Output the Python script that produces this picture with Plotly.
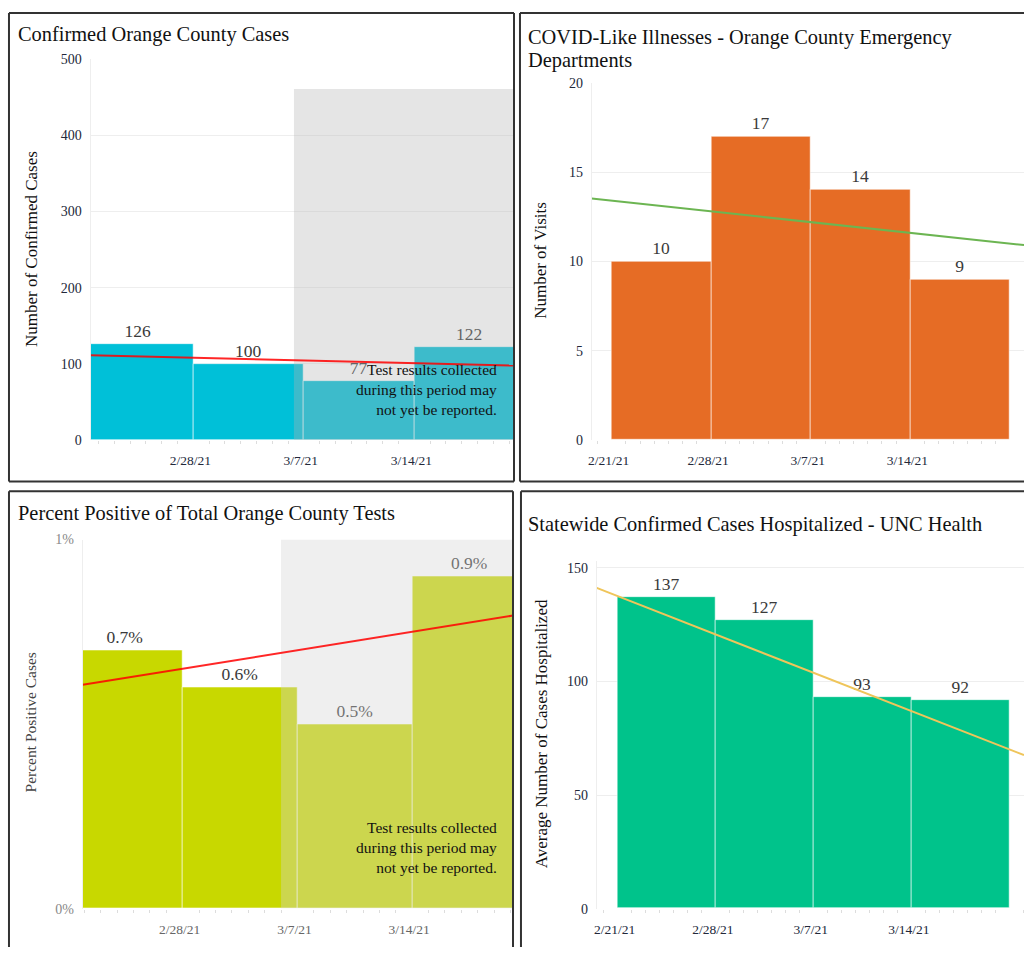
import numpy as np
import pandas as pd
import plotly.graph_objects as go

# ---------------- data ----------------
week_starts = ["2021-02-21", "2021-02-28", "2021-03-07", "2021-03-14"]
confirmed_cases = [126, 100, 77, 122]
cli_visits = [10, 17, 14, 9]
percent_positive = [0.7, 0.6, 0.5, 0.9]
hospitalized = [137, 127, 93, 92]

titles = {
    "cases": "Confirmed Orange County Cases",
    "cli_1": "COVID-Like Illnesses - Orange County Emergency",
    "cli_2": "Departments",
    "pct": "Percent Positive of Total Orange County Tests",
    "hosp": "Statewide Confirmed Cases Hospitalized - UNC Health",
}
y_titles = {
    "cases": "Number of Confirmed Cases",
    "cli": "Number of Visits",
    "pct": "Percent Positive Cases",
    "hosp": "Average Number of Cases Hospitalized",
}
note_text = "Test results collected<br>during this period may<br>not yet be reported."

# pending-reporting period (shaded)
cases_pending_start = "2021-03-06 09:00"
cases_pending_top = 461
pct_pending_start = "2021-03-06 00:00"
pct_pending_top = 1.0
pending_end = "2021-03-28"

# ---------------- layout helpers ----------------
W, H = 1024, 955
FONT = "Liberation Serif"


def xd(a, b):
    return [a / W, min(b / W, 1.0)]


def yd(top, bottom):
    return [1 - bottom / H, 1 - top / H]


def px(x):
    return x / W


def py(y):
    return 1 - y / H


xranges = {
    "cases": ["2021-02-21 12:00", "2021-03-20 06:00"],
    "cli": ["2021-02-19 14:24", "2021-03-21 23:30"],
    "pct": ["2021-02-21 21:36", "2021-03-20 03:36"],
    "hosp": ["2021-02-19 12:00", "2021-03-22 00:00"],
}


def trend(vals, xr):
    base = pd.to_datetime(week_starts[0])
    t = (pd.to_datetime(week_starts) - base) / pd.Timedelta(days=1)
    slope, intercept = np.polyfit(np.asarray(t, float), np.asarray(vals, float), 1)
    ends = pd.to_datetime(xr)
    te = np.asarray((ends - base) / pd.Timedelta(days=1), float)
    return [e.strftime("%Y-%m-%d %H:%M") for e in ends], list(intercept + slope * te)


WEEK = 7 * 86400000
fig = go.Figure()


def add_bars(vals, color, xa, ya, tmpl):
    fig.add_trace(go.Bar(
        x=week_starts, y=vals, width=WEEK, offset=0,
        marker=dict(color=color, line=dict(color="rgba(255,255,255,0.55)", width=1)),
        texttemplate=tmpl, textposition="outside", constraintext="none",
        textfont=dict(family=FONT, size=17.5, color="#3a3a3a"),
        xaxis=xa, yaxis=ya, hoverinfo="skip",
    ))


def add_shade(start, top, color, xa, ya):
    fig.add_trace(go.Scatter(
        x=[start, pending_end, pending_end, start, start], y=[0, 0, top, top, 0],
        fill="toself", fillcolor=color, mode="none",
        xaxis=xa, yaxis=ya, hoverinfo="skip",
    ))


def add_trend(vals, key, color, xa, ya):
    tx, ty = trend(vals, xranges[key])
    fig.add_trace(go.Scatter(
        x=tx, y=ty, mode="lines", line=dict(color=color, width=2),
        xaxis=xa, yaxis=ya, hoverinfo="skip",
    ))


# panel 1
add_bars(confirmed_cases, "#00c0d8", "x", "y", "%{y}")
add_shade(cases_pending_start, cases_pending_top, "rgba(179,179,179,0.34)", "x", "y")
add_trend(confirmed_cases, "cases", "rgba(255,0,0,0.85)", "x", "y")
# panel 2
add_bars(cli_visits, "#e66c25", "x2", "y2", "%{y}")
add_trend(cli_visits, "cli", "#6cb552", "x2", "y2")
# panel 3
add_bars(percent_positive, "#c8d800", "x3", "y3", "%{y:.1f}%")
add_shade(pct_pending_start, pct_pending_top, "rgba(212,212,212,0.37)", "x3", "y3")
add_trend(percent_positive, "pct", "rgba(255,0,0,0.85)", "x3", "y3")
# panel 4
add_bars(hospitalized, "#00c38b", "x4", "y4", "%{y}")
add_trend(hospitalized, "hosp", "#efc55a", "x4", "y4")


def xaxis(key, dom, yref, tickcolor):
    return dict(
        domain=dom, anchor=yref, type="date", range=xranges[key],
        tick0="2021-02-21", dtick=WEEK, tickformat="%-m/%-d/%y",
        ticks="outside", ticklen=8, tickcolor="rgba(0,0,0,0)",
        ticklabelshift=-3,
        tickfont=dict(family=FONT, size=13.5, color=tickcolor),
        showgrid=False, zeroline=False, showline=False,
        minor=dict(dtick=86400000, ticks="outside", ticklen=3, tickcolor="#dddddd", showgrid=False),
        fixedrange=True,
    )


def yaxis(dom, xref, rng, dtick, tickcolor, suffix=""):
    return dict(
        domain=dom, anchor=xref, range=rng, dtick=dtick, ticksuffix=suffix,
        ticks="outside", ticklen=5, tickcolor="rgba(0,0,0,0)",
        tickfont=dict(family=FONT, size=14, color=tickcolor),
        showgrid=True, gridcolor="#eeeeee", gridwidth=1,
        zeroline=False, showline=True, linecolor="#eeeeee", linewidth=1,
        fixedrange=True,
    )


dark = "#22283a"
fig.update_layout(
    width=W, height=H, margin=dict(l=0, r=0, t=0, b=0),
    paper_bgcolor="white", plot_bgcolor="white", showlegend=False,
    bargap=0,
    xaxis=xaxis("cases", xd(87, 511), "y", dark),
    yaxis=yaxis(yd(53, 440), "x", [0, 500], 100, dark),
    xaxis2=xaxis("cli", xd(590, 1024), "y2", dark),
    yaxis2=yaxis(yd(77, 440), "x2", [0, 20], 5, dark),
    xaxis3=xaxis("pct", xd(79, 511), "y3", "#666"),
    yaxis3=yaxis(yd(541, 916), "x3", [0, 1], 1, "#888", "%"),
    xaxis4=xaxis("hosp", xd(595, 1024), "y4", dark),
    yaxis4=yaxis(yd(563, 916), "x4", [0, 153], 50, dark),
)

# panel borders, drawn as segments that stay inside the page
border_segments = [
    # panel 1 (full box)
    (5, 6, 512, 6), (5, 6, 5, 482), (512, 6, 512, 482), (5, 482, 512, 482),
    # panel 2 (right side cut off)
    (518, 6, 1024, 6), (518, 6, 518, 482), (518, 482, 1024, 482),
    # panel 3 (bottom cut off)
    (5, 492, 511, 492), (5, 492, 5, 955), (511, 492, 511, 955),
    # panel 4
    (519, 492, 1024, 492), (519, 492, 519, 955),
]
for (x0, y0, x1, y1) in border_segments:
    fig.add_shape(type="line", xref="paper", yref="paper",
                  x0=px(x0), x1=px(x1), y0=py(y0), y1=py(y1),
                  line=dict(color="#333", width=2), layer="above")

ann = []


def title(text, x, yc):
    ann.append(dict(text=text, x=px(x), y=py(yc), xref="paper", yref="paper",
                    xanchor="left", yanchor="middle", showarrow=False,
                    font=dict(family=FONT, size=20.4, color="#111")))


title(titles["cases"], 12, 28)
title(titles["cli_1"], 524, 31)
title(titles["cli_2"], 524, 54)
title(titles["pct"], 12, 515)
title(titles["hosp"], 524, 526)


def ytitle(text, x, yc, size, color):
    ann.append(dict(text=text, x=px(x), y=py(yc), xref="paper", yref="paper",
                    xanchor="center", yanchor="middle", textangle=-90, showarrow=False,
                    font=dict(family=FONT, size=size, color=color)))


ytitle(y_titles["cases"], 27, 246, 17, "#111")
ytitle(y_titles["cli"], 539, 257, 17, "#111")
ytitle(y_titles["pct"], 27, 727, 15.5, "#444")
ytitle(y_titles["hosp"], 540, 738, 17, "#111")

for yc in (389, 854):
    ann.append(dict(text=note_text, x=px(497), y=py(yc), xref="paper", yref="paper",
                    xanchor="right", yanchor="middle", align="right", showarrow=False,
                    font=dict(family=FONT, size=15.5, color="#111")))

fig.update_layout(annotations=ann)

fig.write_html("out.html", config={"displayModeBar": False},
               post_script="document.body.style.margin='0';")
